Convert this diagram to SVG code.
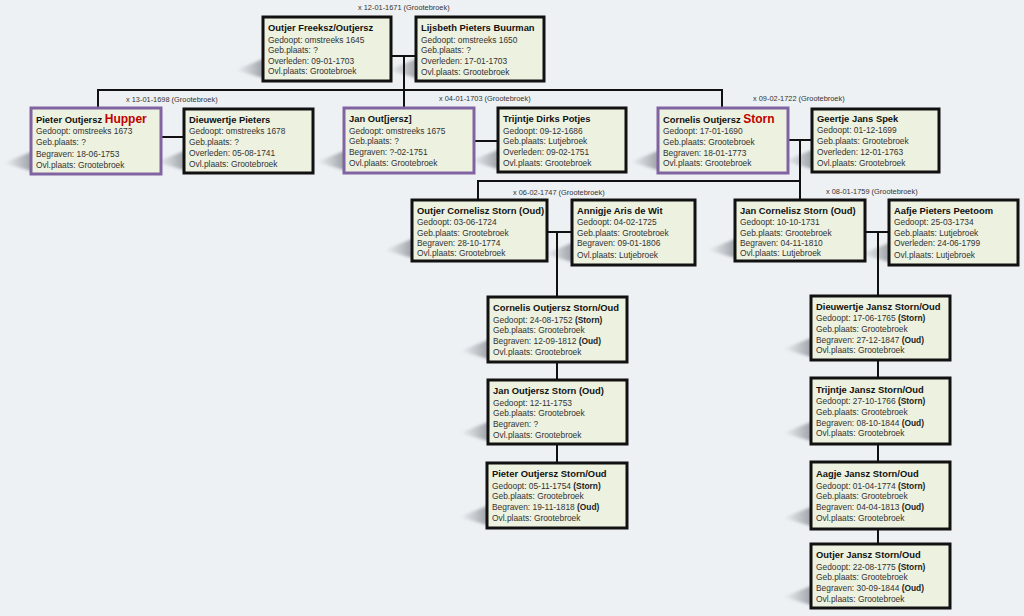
<svg xmlns="http://www.w3.org/2000/svg" xmlns:xlink="http://www.w3.org/1999/xlink" width="1024" height="616" viewBox="0 0 1024 616">
<style>
.bx{fill:#edf1df;stroke:#111;stroke-width:3}
.pb{stroke:#8064a2}
.nm{font-family:"Liberation Sans",Arial,sans-serif;font-weight:bold;font-size:9.4px;fill:#111}
.dt{font-family:"Liberation Sans",Arial,sans-serif;font-size:8.4px;fill:#333}
.red{fill:#c00000;font-size:12px;font-weight:bold}
.b{font-weight:bold;fill:#222}
.lbl{font-family:"Liberation Sans",Arial,sans-serif;font-size:7.4px;fill:#333}
.ln{stroke:#111;stroke-width:2;fill:none}
</style>
<defs>
<linearGradient id="sg" x1="0" y1="0" x2="1" y2="0">
<stop offset="0" stop-color="#a0a5ab" stop-opacity="0"/>
<stop offset="0.75" stop-color="#8d9298" stop-opacity="0.85"/>
<stop offset="1" stop-color="#8d9298" stop-opacity="0.9"/>
</linearGradient>
<filter id="bl" x="-30%" y="-50%" width="160%" height="200%"><feGaussianBlur stdDeviation="1.8"/></filter>
<path id="sh" d="M-28,-11 L0,-22 L10,-22 L10,-2 L0,-3 Z" fill="url(#sg)" filter="url(#bl)"/>
</defs>
<rect width="1024" height="616" fill="#eef1f4"/>
<g id="shadows">
<use xlink:href="#sh" x="263" y="81"/>
<use xlink:href="#sh" x="416" y="81"/>
<use xlink:href="#sh" x="31" y="174"/>
<use xlink:href="#sh" x="184" y="173"/>
<use xlink:href="#sh" x="344" y="173"/>
<use xlink:href="#sh" x="498" y="172"/>
<use xlink:href="#sh" x="658" y="173"/>
<use xlink:href="#sh" x="812" y="172"/>
<use xlink:href="#sh" x="412" y="261"/>
<use xlink:href="#sh" x="572" y="265"/>
<use xlink:href="#sh" x="735" y="261"/>
<use xlink:href="#sh" x="889" y="265"/>
<use xlink:href="#sh" x="488" y="362"/>
<use xlink:href="#sh" x="488" y="444"/>
<use xlink:href="#sh" x="487" y="528"/>
<use xlink:href="#sh" x="811" y="360"/>
<use xlink:href="#sh" x="811" y="444"/>
<use xlink:href="#sh" x="811" y="529"/>
<use xlink:href="#sh" x="811" y="608"/>
</g>
<g id="connectors">
<path class="ln" d="M391,56 H416 M404,56 V108 M98,108 V90 H722 V108"/>
<path class="ln" d="M161,137 H184"/>
<path class="ln" d="M474,141 H498"/>
<path class="ln" d="M788,140 H812 M800,140 V200 M478,200 V181 H800"/>
<path class="ln" d="M547,232 H572 M557,232 V297 M557,362 V380 M557,444 V463"/>
<path class="ln" d="M865,232 H889 M878,232 V296 M878,360 V378 M878,444 V462 M878,529 V544"/>
</g>
<g id="labels">
<text class="lbl" x="358" y="10">x 12-01-1671 (Grootebroek)</text>
<text class="lbl" x="126" y="102">x 13-01-1698 (Grootebroek)</text>
<text class="lbl" x="439" y="101">x 04-01-1703 (Grootebroek)</text>
<text class="lbl" x="753" y="101">x 09-02-1722 (Grootebroek)</text>
<text class="lbl" x="513" y="195">x 06-02-1747 (Grootebroek)</text>
<text class="lbl" x="826" y="194">x 08-01-1759 (Grootebroek)</text>
</g>
<g id="n1">
<rect class="bx" x="263" y="17" width="128" height="64"/>
<text class="nm" x="268" y="31">Outjer Freeksz/Outjersz</text>
<text class="dt" x="268" y="42.5">Gedoopt: omstreeks 1645</text>
<text class="dt" x="268" y="53">Geb.plaats: ?</text>
<text class="dt" x="268" y="63.5">Overleden: 09-01-1703</text>
<text class="dt" x="268" y="74">Ovl.plaats: Grootebroek</text>
</g>
<g id="n2">
<rect class="bx" x="416" y="17" width="128" height="64"/>
<text class="nm" x="421" y="31">Lijsbeth Pieters Buurman</text>
<text class="dt" x="421" y="42.5">Gedoopt: omstreeks 1650</text>
<text class="dt" x="421" y="53">Geb.plaats: ?</text>
<text class="dt" x="421" y="63.5">Overleden: 17-01-1703</text>
<text class="dt" x="421" y="75">Ovl.plaats: Grootebroek</text>
</g>
<g id="n3">
<rect class="bx pb" x="31" y="108" width="130" height="66"/>
<text class="nm" x="36" y="123">Pieter Outjersz <tspan class="red">Hupper</tspan></text>
<text class="dt" x="36" y="134">Gedoopt: omstreeks 1673</text>
<text class="dt" x="36" y="145">Geb.plaats: ?</text>
<text class="dt" x="36" y="156.5">Begraven: 18-06-1753</text>
<text class="dt" x="36" y="167.5">Ovl.plaats: Grootebroek</text>
</g>
<g id="n4">
<rect class="bx" x="184" y="109" width="129" height="64"/>
<text class="nm" x="189" y="123">Dieuwertje Pieters</text>
<text class="dt" x="189" y="134">Gedoopt: omstreeks 1678</text>
<text class="dt" x="189" y="145">Geb.plaats: ?</text>
<text class="dt" x="189" y="155.5">Overleden: 05-08-1741</text>
<text class="dt" x="189" y="166.5">Ovl.plaats: Grootebroek</text>
</g>
<g id="n5">
<rect class="bx pb" x="344" y="108" width="130" height="65"/>
<text class="nm" x="349" y="122">Jan Out[jersz]</text>
<text class="dt" x="349" y="133.5">Gedoopt: omstreeks 1675</text>
<text class="dt" x="349" y="144">Geb.plaats: ?</text>
<text class="dt" x="349" y="155">Begraven: ?-02-1751</text>
<text class="dt" x="349" y="165.5">Ovl.plaats: Grootebroek</text>
</g>
<g id="n6">
<rect class="bx" x="498" y="108" width="128" height="64"/>
<text class="nm" x="503" y="122">Trijntje Dirks Potjes</text>
<text class="dt" x="503" y="133.5">Gedoopt: 09-12-1686</text>
<text class="dt" x="503" y="144">Geb.plaats: Lutjebroek</text>
<text class="dt" x="503" y="155">Overleden: 09-02-1751</text>
<text class="dt" x="503" y="166">Ovl.plaats: Grootebroek</text>
</g>
<g id="n7">
<rect class="bx pb" x="658" y="108" width="130" height="65"/>
<text class="nm" x="663" y="123">Cornelis Outjersz <tspan class="red">Storn</tspan></text>
<text class="dt" x="663" y="134">Gedoopt: 17-01-1690</text>
<text class="dt" x="663" y="144.5">Geb.plaats: Grootebroek</text>
<text class="dt" x="663" y="155.5">Begraven: 18-01-1773</text>
<text class="dt" x="663" y="166">Ovl.plaats: Grootebroek</text>
</g>
<g id="n8">
<rect class="bx" x="812" y="109" width="127" height="63"/>
<text class="nm" x="817" y="122">Geertje Jans Spek</text>
<text class="dt" x="817" y="133">Gedoopt: 01-12-1699</text>
<text class="dt" x="817" y="144">Geb.plaats: Grootebroek</text>
<text class="dt" x="817" y="155">Overleden: 12-01-1763</text>
<text class="dt" x="817" y="166">Ovl.plaats: Grootebroek</text>
</g>
<g id="n9">
<rect class="bx" x="412" y="200" width="135" height="61"/>
<text class="nm" x="417" y="214">Outjer Cornelisz Storn (Oud)</text>
<text class="dt" x="417" y="225">Gedoopt: 03-06-1724</text>
<text class="dt" x="417" y="235.5">Geb.plaats: Grootebroek</text>
<text class="dt" x="417" y="246">Begraven: 28-10-1774</text>
<text class="dt" x="417" y="256">Ovl.plaats: Grootebroek</text>
</g>
<g id="n10">
<rect class="bx" x="572" y="200" width="123" height="65"/>
<text class="nm" x="577" y="214">Annigje Aris de Wit</text>
<text class="dt" x="577" y="225">Gedoopt: 04-02-1725</text>
<text class="dt" x="577" y="235.5">Geb.plaats: Grootebroek</text>
<text class="dt" x="577" y="246">Begraven: 09-01-1806</text>
<text class="dt" x="577" y="258">Ovl.plaats: Lutjebroek</text>
</g>
<g id="n11">
<rect class="bx" x="735" y="200" width="130" height="61"/>
<text class="nm" x="740" y="214">Jan Cornelisz Storn (Oud)</text>
<text class="dt" x="740" y="225">Gedoopt: 10-10-1731</text>
<text class="dt" x="740" y="235.5">Geb.plaats: Grootebroek</text>
<text class="dt" x="740" y="246">Begraven: 04-11-1810</text>
<text class="dt" x="740" y="256">Ovl.plaats: Lutjebroek</text>
</g>
<g id="n12">
<rect class="bx" x="889" y="200" width="129" height="65"/>
<text class="nm" x="894" y="214">Aafje Pieters Peetoom</text>
<text class="dt" x="894" y="225">Gedoopt: 25-03-1734</text>
<text class="dt" x="894" y="235.5">Geb.plaats: Lutjebroek</text>
<text class="dt" x="894" y="246">Overleden: 24-06-1799</text>
<text class="dt" x="894" y="258">Ovl.plaats: Lutjebroek</text>
</g>
<g id="n13">
<rect class="bx" x="488" y="297" width="139" height="65"/>
<text class="nm" x="493" y="311">Cornelis Outjersz Storn/Oud</text>
<text class="dt" x="493" y="322.5">Gedoopt: 24-08-1752 <tspan class="b">(Storn)</tspan></text>
<text class="dt" x="493" y="333">Geb.plaats: Grootebroek</text>
<text class="dt" x="493" y="344">Begraven: 12-09-1812 <tspan class="b">(Oud)</tspan></text>
<text class="dt" x="493" y="354.5">Ovl.plaats: Grootebroek</text>
</g>
<g id="n14">
<rect class="bx" x="488" y="380" width="139" height="64"/>
<text class="nm" x="493" y="394">Jan Outjersz Storn (Oud)</text>
<text class="dt" x="493" y="405.5">Gedoopt: 12-11-1753</text>
<text class="dt" x="493" y="416">Geb.plaats: Grootebroek</text>
<text class="dt" x="493" y="427">Begraven: ?</text>
<text class="dt" x="493" y="437.5">Ovl.plaats: Grootebroek</text>
</g>
<g id="n15">
<rect class="bx" x="487" y="463" width="140" height="65"/>
<text class="nm" x="492" y="477">Pieter Outjersz Storn/Oud</text>
<text class="dt" x="492" y="488.5">Gedoopt: 05-11-1754 <tspan class="b">(Storn)</tspan></text>
<text class="dt" x="492" y="499">Geb.plaats: Grootebroek</text>
<text class="dt" x="492" y="510">Begraven: 19-11-1818 <tspan class="b">(Oud)</tspan></text>
<text class="dt" x="492" y="520.5">Ovl.plaats: Grootebroek</text>
</g>
<g id="n16">
<rect class="bx" x="811" y="296" width="139" height="64"/>
<text class="nm" x="816" y="310">Dieuwertje Jansz Storn/Oud</text>
<text class="dt" x="816" y="321">Gedoopt: 17-06-1765 <tspan class="b">(Storn)</tspan></text>
<text class="dt" x="816" y="331.5">Geb.plaats: Grootebroek</text>
<text class="dt" x="816" y="342.5">Begraven: 27-12-1847 <tspan class="b">(Oud)</tspan></text>
<text class="dt" x="816" y="353">Ovl.plaats: Grootebroek</text>
</g>
<g id="n17">
<rect class="bx" x="811" y="378" width="139" height="66"/>
<text class="nm" x="816" y="393">Trijntje Jansz Storn/Oud</text>
<text class="dt" x="816" y="404">Gedoopt: 27-10-1766 <tspan class="b">(Storn)</tspan></text>
<text class="dt" x="816" y="414.5">Geb.plaats: Grootebroek</text>
<text class="dt" x="816" y="425.5">Begraven: 08-10-1844 <tspan class="b">(Oud)</tspan></text>
<text class="dt" x="816" y="436">Ovl.plaats: Grootebroek</text>
</g>
<g id="n18">
<rect class="bx" x="811" y="462" width="139" height="67"/>
<text class="nm" x="816" y="477">Aagje Jansz Storn/Oud</text>
<text class="dt" x="816" y="488.5">Gedoopt: 01-04-1774 <tspan class="b">(Storn)</tspan></text>
<text class="dt" x="816" y="499">Geb.plaats: Grootebroek</text>
<text class="dt" x="816" y="510">Begraven: 04-04-1813 <tspan class="b">(Oud)</tspan></text>
<text class="dt" x="816" y="520.5">Ovl.plaats: Grootebroek</text>
</g>
<g id="n19">
<rect class="bx" x="811" y="544" width="139" height="64"/>
<text class="nm" x="816" y="558">Outjer Jansz Storn/Oud</text>
<text class="dt" x="816" y="569.5">Gedoopt: 22-08-1775 <tspan class="b">(Storn)</tspan></text>
<text class="dt" x="816" y="580">Geb.plaats: Grootebroek</text>
<text class="dt" x="816" y="591">Begraven: 30-09-1844 <tspan class="b">(Oud)</tspan></text>
<text class="dt" x="816" y="601.5">Ovl.plaats: Grootebroek</text>
</g>
</svg>
